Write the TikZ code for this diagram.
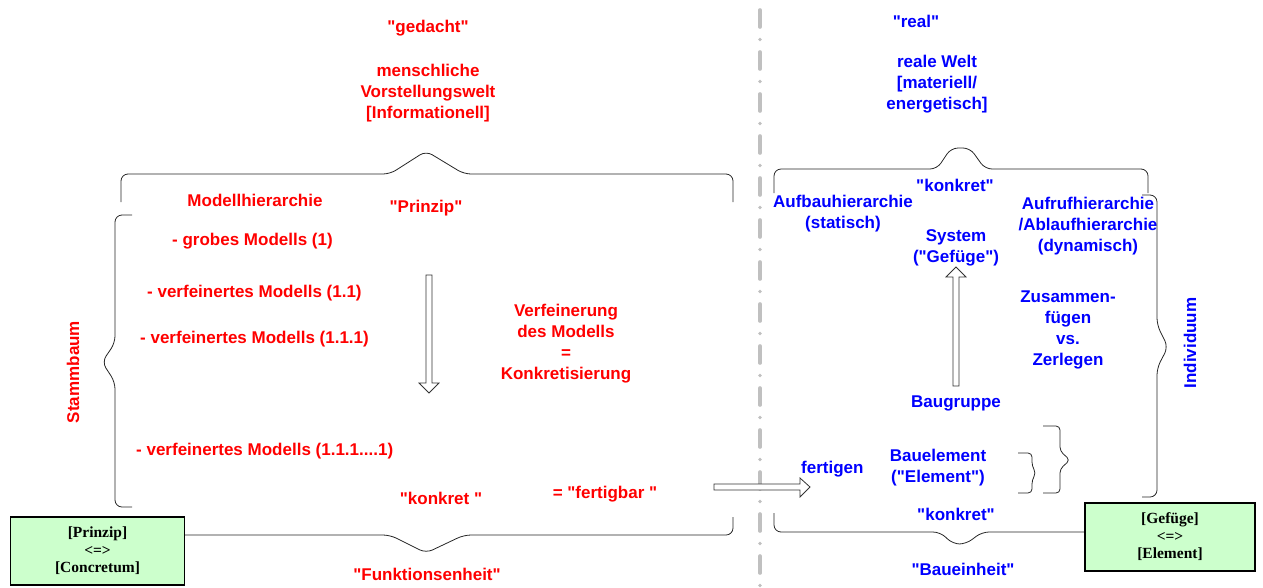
\documentclass[tikz,border=0pt]{standalone}
\usepackage{fontspec}
\newfontfamily\arialb{Liberation Sans}
\newfontfamily\serifb{Liberation Serif}
\usepackage{tikz}
\usetikzlibrary{positioning}
\definecolor{boxgreen}{RGB}{204,255,204}
\definecolor{dashgray}{RGB}{192,192,192}

\begin{document}
\begin{tikzpicture}[x=1pt,y=-1pt,
  txt/.style={font=\arialb\bfseries\fontsize{17}{21}\selectfont,align=center,inner sep=0pt},
  redtxt/.style={txt,text=red},
  bluetxt/.style={txt,text=blue},
  greenbox/.style={draw,line width=1.6pt,fill=boxgreen,minimum height=68pt,align=center,font=\serifb\bfseries\fontsize{15.5}{17.5}\selectfont},
  brace/.style={draw=black!85,line width=0.8pt,rounded corners=7pt},
  smallbrace/.style={brace,rounded corners=4pt},
  hollow/.style={draw=black!80,line width=0.8pt,fill=white}]
\useasboundingbox (0,0) rectangle (1263,587);

\draw[dashgray,line width=3.6pt,line cap=round,dash pattern=on 17pt off 12.5pt on 0pt off 12.5pt] (760,10) -- (760,587);

\node[redtxt] (gedacht) at (428,28) {"gedacht"};
\node[redtxt] (vorst) at (428,93) {menschliche\\Vorstellungswelt\\{[Informationell]}};
\node[redtxt] (mhier) at (255,200) {Modellhierarchie};
\node[redtxt] (prinzip) at (426,208) {"Prinzip"};
\node[redtxt,anchor=west] (m1) at (172,241) {- grobes Modells (1)};
\node[redtxt,anchor=west] (m2) at (147,293) {- verfeinertes Modells (1.1)};
\node[redtxt,anchor=west] (m3) at (140,339) {- verfeinertes Modells (1.1.1)};
\node[redtxt,anchor=west] (m4) at (136,451) {- verfeinertes Modells (1.1.1....1)};
\node[redtxt] (verf) at (566,344) {Verfeinerung\\des Modells\\=\\Konkretisierung};
\node[redtxt] (konkretl) at (441,498) {"konkret "};
\node[redtxt] (fertigbar) at (605,494) {= "fertigbar "};
\node[redtxt] (funk) at (427,574) {"Funktionsenheit"};
\node[redtxt,rotate=90] (stamm) at (73,372) {Stammbaum};

\node[bluetxt] (real) at (916,21) {"real"};
\node[bluetxt] (welt) at (937,84) {reale Welt\\{[materiell/}\\energetisch]};
\node[bluetxt] (konkreto) at (955,185) {"konkret"};
\node[bluetxt] (aufbau) at (843,214) {Aufbauhierarchie\\(statisch)};
\node[bluetxt] (system) at (956,248) {System\\("Gefüge")};
\node[bluetxt] (aufruf) at (1088,226) {Aufrufhierarchie\\/Ablaufhierarchie\\(dynamisch)};
\node[bluetxt] (zus) at (1068,330) {Zusammen-\\fügen\\vs.\\Zerlegen};
\node[bluetxt] (baugr) at (956,403) {Baugruppe};
\node[bluetxt,anchor=west] (fertigen) at (801,469) {fertigen};
\node[bluetxt] (bauel) at (938,468) {Bauelement\\("Element")};
\node[bluetxt] (konkretu) at (956,514) {"konkret"};
\node[bluetxt] (bauein) at (963,569) {"Baueinheit"};
\node[bluetxt,rotate=90] (indiv) at (1190,343) {Individuum};

\draw[brace] (121,202) -- (121,174) -- (390,174) -- (426,151) -- (464,174) -- (733,174) -- (733,202);
\draw[brace] (132,215) -- (115,215) -- (115,343) -- (102,362) -- (115,382) -- (115,507) -- (132,507);
\draw[brace] (121,517) -- (121,535) -- (390,535) -- (426,553) -- (464,535) -- (733,535) -- (733,517);
\draw[brace] (774,193) -- (774,169) -- (937,169) -- (951,148) -- (970,148) -- (985,169) -- (1148,169) -- (1148,193);
\draw[brace] (1142,195) -- (1157,195) -- (1157,325) -- (1168,347) -- (1157,368) -- (1157,497) -- (1142,497);
\draw[brace] (774,513) -- (774,532) -- (940,532) -- (953,544) -- (966,544) -- (982,532) -- (1150,532) -- (1150,513);
\draw[smallbrace] (1018,453) -- (1032,453) -- (1032,466) -- (1036,473) -- (1032,480) -- (1032,493) -- (1018,493);
\draw[smallbrace] (1043,426) -- (1060,426) -- (1060,451) -- (1070,460) -- (1060,469) -- (1060,493) -- (1043,493);

\draw[hollow] (426,275) -- (432,275) -- (432,383) -- (439,383) -- (429,393) -- (419,383) -- (426,383) -- cycle;
\draw[hollow] (953,386) -- (959,386) -- (959,277) -- (966,277) -- (956,267) -- (946,277) -- (953,277) -- cycle;
\draw[hollow] (714,484) -- (800,484) -- (800,478) -- (810,487) -- (800,497) -- (800,490) -- (714,490) -- cycle;

\node[greenbox,minimum width=174pt] (lbox) at (97.5,551) {[Prinzip]\\<=>\\{[Concretum]}};
\node[greenbox,minimum width=170pt] (rbox) at (1170,537) {[Gefüge]\\<=>\\{[Element]}};
\end{tikzpicture}
\end{document}
